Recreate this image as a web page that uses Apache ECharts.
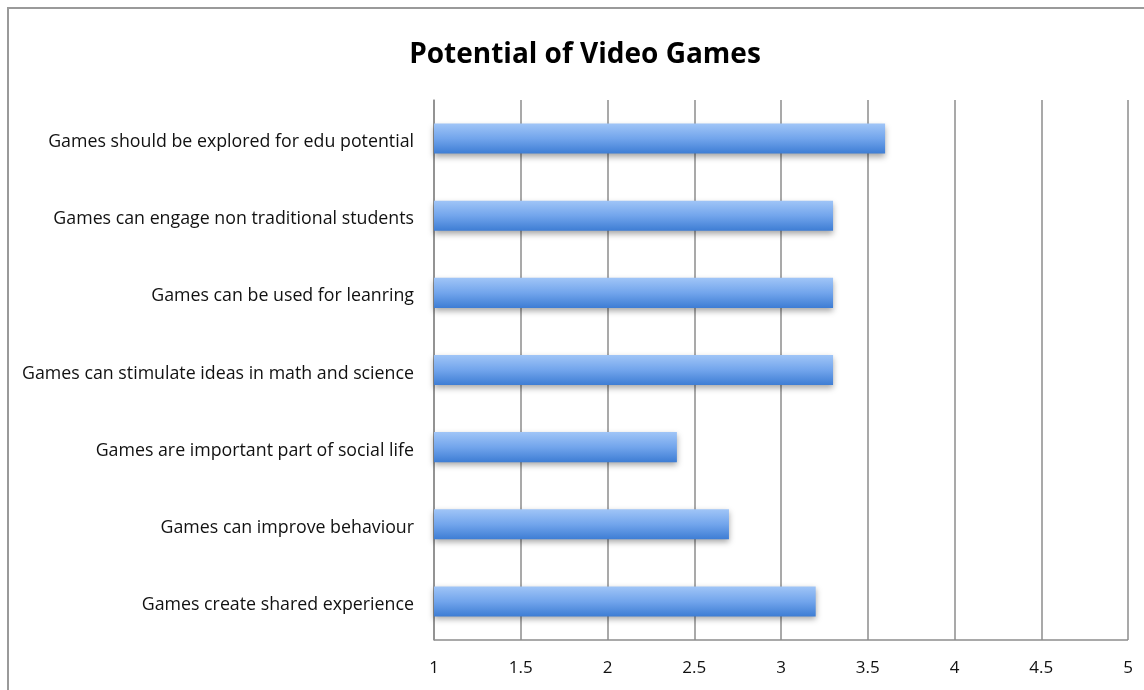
<!DOCTYPE html>
<html>
<head>
<meta charset="utf-8">
<script src="https://cdn.jsdelivr.net/npm/echarts@6/dist/echarts.min.js"></script>
<style>
  html, body { margin: 0; padding: 0; background: #fff; }
  #frame { position: absolute; left: 7px; top: 7px; width: 1150px; height: 690px; border: 2px solid #9a9a9a; box-sizing: border-box; }
  #chart { width: 1144px; height: 690px; }
</style>
</head>
<body>
<div id="frame"></div>
<div id="chart"></div>
<script>
// Statements, listed top to bottom as drawn
const statements = [
  'Games should be explored for edu potential',
  'Games can engage non traditional students',
  'Games can be used for leanring',
  'Games can stimulate ideas in math and science',
  'Games are important part of social life',
  'Games can improve behaviour',
  'Games create shared experience'
];
// Mean agreement score per statement
const scores = [3.6, 3.3, 3.3, 3.3, 2.4, 2.7, 3.2];
const tickLabels = ['1', '1.5', '2', '2.5', '3', '3.5', '4', '4.5', '5'];

const chart = echarts.init(document.getElementById('chart'), null, { renderer: 'canvas' });
const font = '"Open Sans", "Noto Sans", sans-serif';

chart.setOption({
  animation: false,
  title: {
    text: 'Potential of Video Games',
    left: 580, top: 36, textAlign: 'center',
    textStyle: { fontFamily: font, fontSize: 28, fontWeight: 'bold', color: '#000' }
  },
  grid: { left: 434, right: 16, top: 100, bottom: 50 },
  xAxis: {
    type: 'value', min: 1, max: 5, interval: 0.5,
    axisLine: { show: false },
    axisTick: { show: false },
    axisLabel: {
      margin: 20, color: '#111', fontFamily: font, fontSize: 17,
      formatter: (v) => tickLabels[Math.round((v - 1) / 0.5)]
    },
    splitLine: { show: true, lineStyle: { color: '#8c8c8c', width: 1.5 } }
  },
  yAxis: {
    type: 'category', inverse: true, data: statements,
    axisLine: { show: true, lineStyle: { color: '#8c8c8c', width: 1.5 } },
    axisTick: { show: false },
    axisLabel: {
      margin: 20,
      formatter: (v) => '{s|' + v + '}',
      rich: {
        s: { color: '#111', fontFamily: font, fontSize: 17.8, padding: [7, 0, 0, 0] }
      }
    }
  },
  series: [{
    type: 'bar',
    data: scores,
    barWidth: '39%',
    itemStyle: {
      color: new echarts.graphic.LinearGradient(0, 0, 0, 1, [
        { offset: 0, color: '#a0c5f7' },
        { offset: 0.5, color: '#72a5ec' },
        { offset: 1, color: '#3e7dd4' }
      ]),
      shadowColor: 'rgba(0,0,0,0.35)', shadowBlur: 6, shadowOffsetY: 3
    }
  }],
  graphic: [{
    type: 'line', z: 100,
    shape: { x1: 434, y1: 640, x2: 1128, y2: 640 },
    style: { stroke: '#8c8c8c', lineWidth: 1.5 }
  }]
});
</script>
</body>
</html>
